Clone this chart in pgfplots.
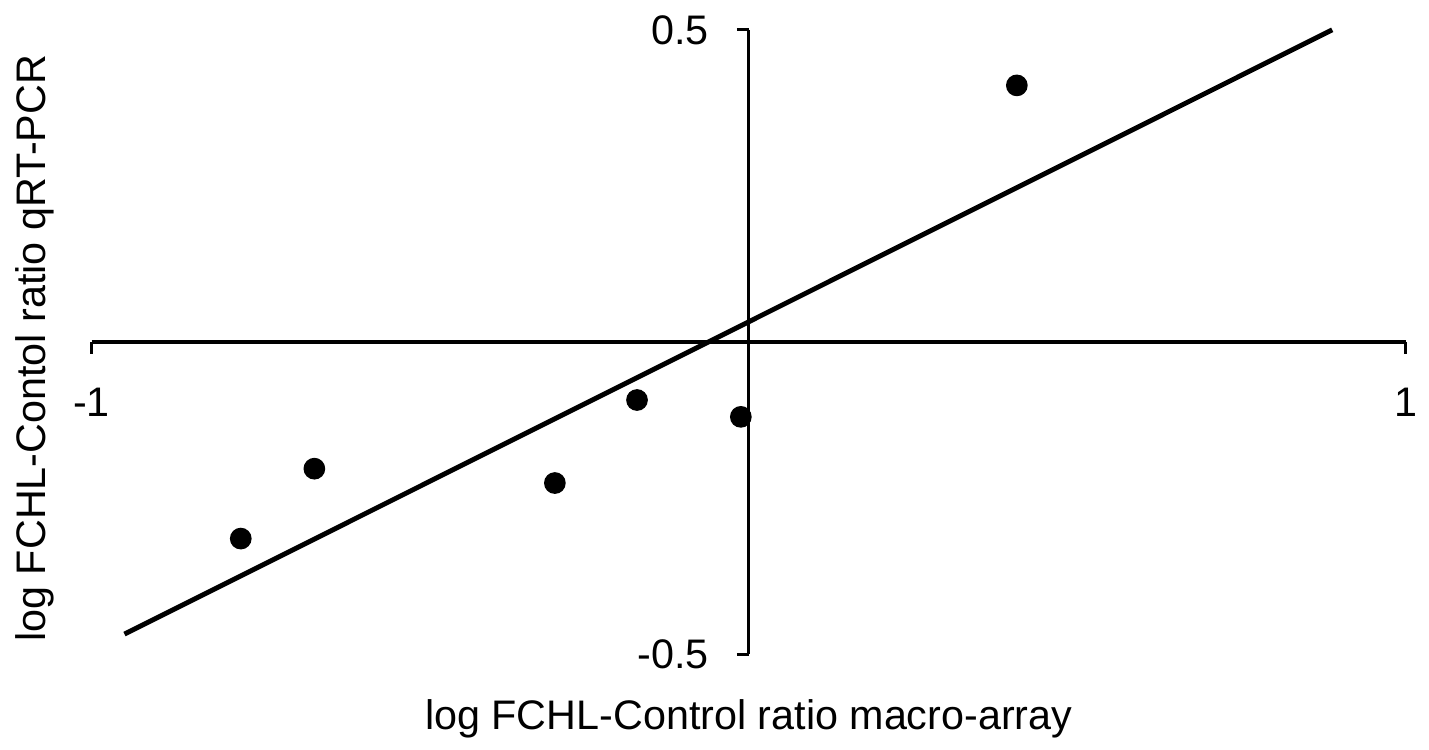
\documentclass[border=0pt]{standalone}
\usepackage{pgfplots}
\pgfplotsset{compat=1.18}
\usepackage{fontspec}
\setmainfont{Liberation Sans}

\begin{document}
\begin{tikzpicture}
\begin{axis}[
    scale only axis,
    width=132mm,
    height=62.7mm,
    axis lines=middle,
    clip=false,
    xmin=-1, xmax=1,
    ymin=-0.5, ymax=0.5,
    xtick={-1,1},
    xticklabels={-1,1},
    ytick={-0.5,0.5},
    yticklabels={-0.5,0.5},
    tick align=outside,
    major tick length=1.2mm,
    axis line style={-, line width=0.9pt},
    tick style={line width=0.9pt, black},
    font=\fontsize{11.8}{14}\selectfont,
    xticklabel style={anchor=north, yshift=-2.2mm},
    yticklabel style={anchor=east, xshift=-1.6mm},
    xlabel={log FCHL-Control ratio macro-array},
    ylabel={log FCHL-Contol ratio qRT-PCR},
    xlabel style={at={(rel axis cs:0.5,-0.104)}, anchor=center},
    ylabel style={at={(rel axis cs:-0.043,0.49)}, anchor=center, rotate=90},
]
% invisible frame that gives the page the reference's proportions
\path (rel axis cs:-0.0697,-0.1467) rectangle (rel axis cs:1.0129,1.0478);

\addplot[only marks, mark=*, mark size=2.9pt, black] coordinates {
    (-0.773,-0.315) (-0.661,-0.203) (-0.295,-0.226)
    (-0.170,-0.093) (-0.012,-0.120) (0.408,0.411)
};

\addplot[black, line width=1.4pt] coordinates {
    (-0.950,-0.468) (0.888,0.500)
};
\end{axis}
\end{tikzpicture}
\end{document}
